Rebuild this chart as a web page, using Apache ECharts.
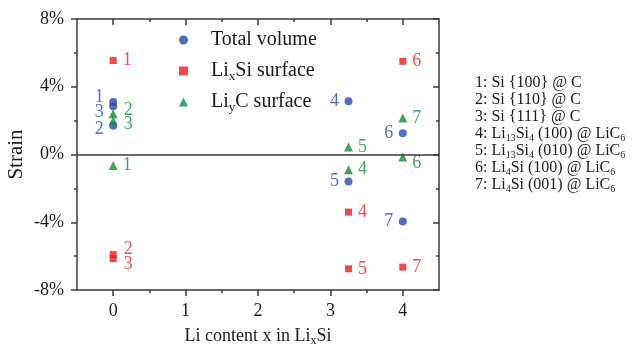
<!DOCTYPE html>
<html>
<head>
<meta charset="utf-8">
<script src="https://cdn.jsdelivr.net/npm/echarts@6/dist/echarts.min.js"></script>
<style>
  html, body { margin: 0; padding: 0; background: #fff; }
  #chart { width: 640px; height: 354px; }
</style>
</head>
<body>
<div id="chart"></div>
<script>
// Li content x of each interface structure (1..7)
const liContent = [0, 0, 0, 3.25, 3.25, 4, 4];
// structure ids used as point labels
const structureIds = ['1', '2', '3', '4', '5', '6', '7'];

// strain (%) per structure
const totalVolume  = [3.1, 1.7, 2.85, 3.15, -1.6, 1.25, -3.95];
const lixSiSurface = [5.55, -5.9, -6.15, -3.4, -6.75, 5.5, -6.65];
const liyCSurface  = [-0.65, 2.4, 2.0, -0.9, 0.45, -0.15, 2.15];

// axis ticks
const xTickValues = [0, 1, 2, 3, 4];
const xMinorTickValues = [0.5, 1.5, 2.5, 3.5];

// series names (rich-text markup used for subscripts)
const seriesNames = ['Total volume', 'LixSi surface', 'LiyC surface'];
const seriesLabels = ['Total volume', 'Li{sub|x}Si surface', 'Li{sub|y}C surface'];

// structure key shown to the right of the plot
const structureKey = [
  '1: Si {100} @ C',
  '2: Si {110} @ C',
  '3: Si {111} @ C',
  '4: Li{sub|13}Si{sub|4} (100) @ LiC{sub|6}',
  '5: Li{sub|13}Si{sub|4} (010) @ LiC{sub|6}',
  '6: Li{sub|4}Si (100) @ LiC{sub|6}',
  '7: Li{sub|4}Si (001) @ LiC{sub|6}'
];

// label offsets (px) around each marker, kept apart from the values
const volumeLabelOffset  = [[-14, -5], [-14, 4], [-14, 6], [-14, 0], [-14, 0], [-14, 0], [-14, 0]];
const surfaceLabelOffset = [[14, 0], [15, -5], [15, 6], [14, 0], [14, 0], [14, 0], [14, 0]];
const carbonLabelOffset  = [[14, 0], [15, -4], [15, 4], [14, 0], [14, 0], [14, 6], [14, 0]];

const FONT = '"Liberation Serif", "Times New Roman", serif';
const AXIS = '#3a3a3a';
const TEXT = '#1a1a1a';
const BLUE = '#2c4aa6';
const RED = '#ee1c25';
const GREEN = '#138a3a';

const subStyle = { fontSize: 12, fontFamily: FONT, verticalAlign: 'bottom', lineHeight: 10 };
const axisLineStyle = { show: true, onZero: false, lineStyle: { color: AXIS, width: 1.5 } };
const noLine = { show: false, onZero: false };

function points(values, offsets) {
  return values.map((v, i) => ({
    name: structureIds[i],
    value: [liContent[i], v],
    label: { offset: offsets[i] }
  }));
}

function pointLabel(color) {
  return {
    show: true,
    position: 'inside',
    formatter: '{b}',
    color: color,
    fontFamily: FONT,
    fontSize: 18,
    align: 'center',
    verticalAlign: 'middle'
  };
}

const chart = echarts.init(document.getElementById('chart'), null, { renderer: 'canvas' });

const option = {
  animation: false,
  backgroundColor: '#ffffff',
  grid: { left: 77, right: 201, top: 19, bottom: 64, containLabel: false, outerBoundsMode: 'none' },
  legend: {
    orient: 'vertical',
    left: 174,
    top: 23,
    itemWidth: 9,
    itemHeight: 9,
    itemGap: 7,
    selectedMode: false,
    data: [
      { name: seriesNames[0], icon: 'circle' },
      { name: seriesNames[1], icon: 'rect' },
      { name: seriesNames[2], icon: 'triangle' }
    ],
    formatter: name => seriesLabels[seriesNames.indexOf(name)],
    textStyle: {
      fontFamily: FONT,
      fontSize: 20,
      color: TEXT,
      lineHeight: 24,
      padding: [0, 0, 0, 18],
      rich: { sub: Object.assign({}, subStyle, { fontSize: 13 }) }
    }
  },
  xAxis: [
    {
      type: 'value', position: 'bottom', min: -0.5, max: 4.5,
      name: 'Li content x in Li{sub|x}Si',
      nameLocation: 'middle',
      nameGap: 35,
      nameTextStyle: {
        fontFamily: FONT, fontSize: 18, color: TEXT, lineHeight: 22,
        rich: { sub: Object.assign({}, subStyle, { fontSize: 12 }) }
      },
      axisLine: axisLineStyle,
      axisTick: { show: true, length: 6, customValues: xTickValues, lineStyle: { color: AXIS, width: 1.5 } },
      axisLabel: { customValues: xTickValues, fontFamily: FONT, fontSize: 18, color: TEXT, margin: 12 },
      splitLine: { show: false }
    },
    {
      type: 'value', position: 'bottom', min: -0.5, max: 4.5,
      axisLine: noLine,
      axisTick: { show: true, length: 3, customValues: xMinorTickValues, lineStyle: { color: AXIS, width: 1.5 } },
      axisLabel: { show: false },
      splitLine: { show: false }
    },
    {
      type: 'value', position: 'top', min: -0.5, max: 4.5,
      axisLine: axisLineStyle,
      axisTick: { show: true, inside: true, length: 6, customValues: xTickValues, lineStyle: { color: AXIS, width: 1.5 } },
      axisLabel: { show: false },
      splitLine: { show: false }
    },
    {
      type: 'value', position: 'top', min: -0.5, max: 4.5,
      axisLine: noLine,
      axisTick: { show: true, inside: true, length: 3, customValues: xMinorTickValues, lineStyle: { color: AXIS, width: 1.5 } },
      axisLabel: { show: false },
      splitLine: { show: false }
    }
  ],
  yAxis: [
    {
      type: 'value', position: 'left', min: -8, max: 8, interval: 4,
      name: 'Strain',
      nameLocation: 'middle',
      nameGap: 50,
      nameMoveOverlap: false,
      nameTextStyle: { fontFamily: FONT, fontSize: 21, color: TEXT },
      axisLine: axisLineStyle,
      axisTick: { show: true, length: 6, lineStyle: { color: AXIS, width: 1.5 } },
      minorTick: { show: true, splitNumber: 2, length: 3, lineStyle: { color: AXIS, width: 1.5 } },
      axisLabel: { formatter: '{value}%', fontFamily: FONT, fontSize: 18, color: TEXT, margin: 13 },
      splitLine: { show: false }
    },
    {
      type: 'value', position: 'right', min: -8, max: 8, interval: 4,
      axisLine: axisLineStyle,
      axisTick: { show: true, inside: true, length: 6, lineStyle: { color: AXIS, width: 1.5 } },
      minorTick: { show: true, splitNumber: 2, length: 3, lineStyle: { color: AXIS, width: 1.5 } },
      axisLabel: { show: false },
      splitLine: { show: false }
    }
  ],
  series: [
    {
      name: seriesNames[0],
      type: 'scatter',
      symbol: 'circle',
      symbolSize: 8,
      itemStyle: { color: BLUE },
      label: pointLabel(BLUE),
      data: points(totalVolume, volumeLabelOffset),
      markLine: {
        silent: true,
        symbol: 'none',
        label: { show: false },
        lineStyle: { color: AXIS, width: 1.5, type: 'solid' },
        data: [{ yAxis: 0 }]
      },
      z: 3
    },
    {
      name: seriesNames[1],
      type: 'scatter',
      symbol: 'rect',
      symbolSize: 7,
      itemStyle: { color: RED },
      label: pointLabel(RED),
      data: points(lixSiSurface, surfaceLabelOffset),
      z: 3
    },
    {
      name: seriesNames[2],
      type: 'scatter',
      symbol: 'triangle',
      symbolSize: 9,
      itemStyle: { color: GREEN },
      label: pointLabel(GREEN),
      data: points(liyCSurface, carbonLabelOffset),
      z: 3
    }
  ],
  graphic: structureKey.map((line, i) => ({
    type: 'text',
    left: 475,
    top: 73 + i * 17,
    style: {
      text: line,
      fill: TEXT,
      font: '16px ' + FONT,
      lineHeight: 19,
      rich: { sub: { fontSize: 10, fontFamily: FONT, fill: TEXT, verticalAlign: 'bottom', lineHeight: 8 } }
    }
  }))
};

chart.setOption(option);
</script>
</body>
</html>
